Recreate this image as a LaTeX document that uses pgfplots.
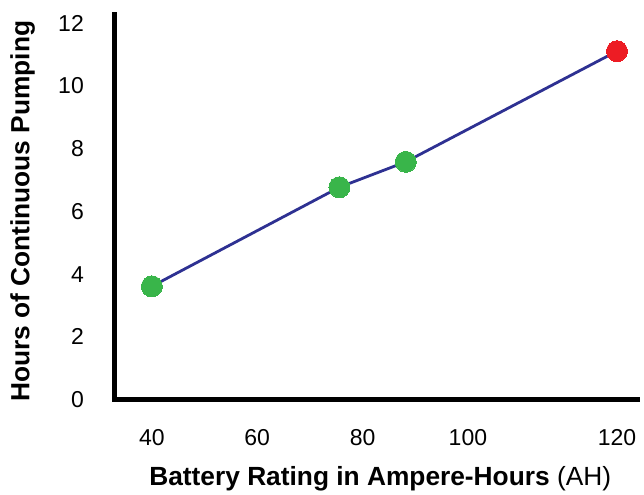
\documentclass[border=0pt]{standalone}
\usepackage{pgfplots}
\pgfplotsset{compat=1.18}
\usepackage{fontspec}
\setmainfont{Liberation Sans}
\definecolor{navy}{RGB}{46,49,146}
\definecolor{dotgreen}{RGB}{57,181,74}
\definecolor{dotred}{RGB}{237,28,36}
\begin{document}
\begin{tikzpicture}
\begin{axis}[
  scale only axis, width=522.5pt, height=385pt,
  xmin=33, xmax=132.2, ymin=0, ymax=12.28,
  axis lines=left,
  axis line style={line width=5pt, -, line cap=rect},
  clip=false,
  xtick={40,60,80,100,128.3}, xticklabels={40,60,80,100,120},
  ytick={0,2,4,6,8,10,12},
  major tick length=0pt,
  /pgf/number format/assume math mode=true,
  tick label style={font=\fontsize{23}{27}\selectfont, inner sep=0pt},
  xticklabel style={anchor=north, yshift=-29.5pt},
  yticklabel style={anchor=east, xshift=-31pt},
  label style={font=\fontsize{26.3}{30}\selectfont},
  xlabel={\textbf{Battery Rating in Ampere-Hours} (AH)},
  ylabel={\textbf{Hours of Continuous Pumping}},
  xlabel style={at={(axis description cs:0.5,0)}, anchor=north, inner sep=0pt, yshift=-67pt, xshift=4pt},
  ylabel style={at={(axis description cs:-0.177,0.489)}, anchor=center, inner sep=0pt},
]
\addplot[navy, line width=2.8pt] coordinates {(40,3.61) (75.6,6.77) (88.2,7.58) (128.3,11.11)};
\addplot[only marks, color=dotgreen, mark=*, mark size=10.5pt, mark options={draw=dotgreen, fill=dotgreen, line width=0pt}] coordinates {(40,3.61) (75.6,6.77) (88.2,7.58)};
\addplot[only marks, color=dotred, mark=*, mark size=10.5pt, mark options={draw=dotred, fill=dotred, line width=0pt}] coordinates {(128.3,11.11)};
\end{axis}
\pgfresetboundingbox
\path ([shift={(-115pt,-95.5pt)}]current axis.south west) rectangle ([shift={(6.5pt,14.5pt)}]current axis.north east);
\end{tikzpicture}
\end{document}
